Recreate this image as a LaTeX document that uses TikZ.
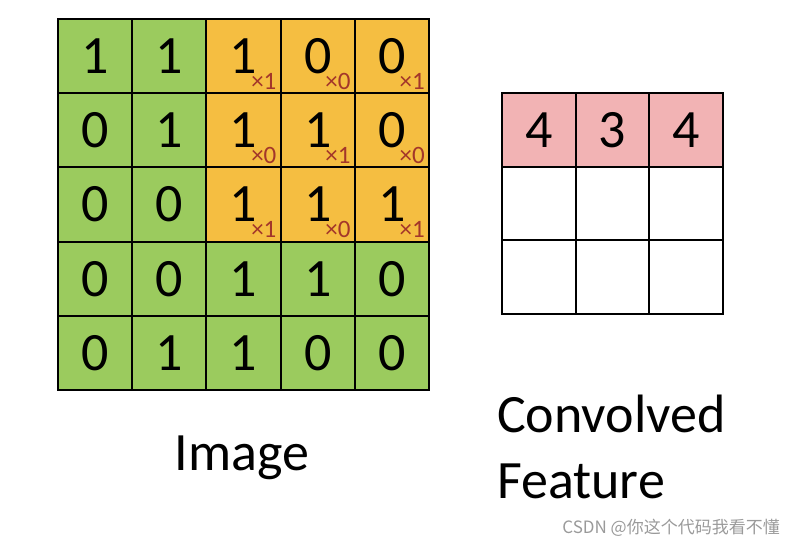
\documentclass[tikz,border=0pt]{standalone}
\usepackage{fontspec}
\setmainfont{Carlito}
\newfontfamily\cjk{Noto Sans CJK SC}
\definecolor{cgreen}{HTML}{9BCB5E}
\definecolor{corange}{HTML}{F5BE41}
\definecolor{cpink}{HTML}{F2B3B4}
\definecolor{cweight}{HTML}{A3362A}
\definecolor{cmark}{HTML}{9A9A9A}
\begin{document}
\begin{tikzpicture}[x=1pt,y=-1pt,
  cell/.style={draw=black, line width=1.9pt, minimum width=74.2pt, minimum height=74.2pt, inner sep=0pt, outer sep=0pt, font=\fontsize{54}{54}\selectfont},
  fcell/.style={cell, minimum width=73.7pt, minimum height=73.7pt},
  weight/.style={text=cweight, inner sep=0pt, anchor=base east, font=\fontsize{25}{25}\selectfont},
  label/.style={inner sep=0pt, font=\fontsize{54}{54}\selectfont}]
\useasboundingbox (0,0) rectangle (786,544);
% input image
\foreach \row/\vals in {0/{1,1,1,0,0},1/{0,1,1,1,0},2/{0,0,1,1,1},3/{0,0,1,1,0},4/{0,1,1,0,0}}{
  \foreach \v [count=\c from 0] in \vals {
    \pgfmathsetmacro{\isorange}{(\row<3 && \c>1) ? 1 : 0}
    \ifdim\isorange pt>0.5pt
      \node[cell, fill=corange] (i-\row-\c) at ({58+74.2*(\c+0.5)},{19+74.2*(\row+0.5)}) {\v};
    \else
      \node[cell, fill=cgreen] (i-\row-\c) at ({58+74.2*(\c+0.5)},{19+74.2*(\row+0.5)}) {\v};
    \fi
  }
}
% kernel weights
\foreach \row/\ws in {0/{1,0,1},1/{0,1,0},2/{1,0,1}}{
  \foreach \w [count=\k from 2] in \ws {
    \node[weight] (w-\row-\k) at ([xshift=-4pt,yshift=4pt]i-\row-\k.south east) {×\w};
  }
}
% convolved feature
\foreach \c/\v in {0/4,1/3,2/4}{
  \node[fcell, fill=cpink] (f-0-\c) at ({502+73.7*(\c+0.5)},{93+73.7*0.5}) {\v};
}
\foreach \row in {1,2}{
  \foreach \c in {0,1,2}{
    \node[fcell, fill=white] (f-\row-\c) at ({502+73.7*(\c+0.5)},{93+73.7*(\row+0.5)}) {};
  }
}
% labels
\node[label, anchor=base] (imglabel) at (242,470) {Image};
\node[label, anchor=base west] (convlabel) at (497,432) {Convolved};
\node[label, anchor=base west] (featlabel) at (497,498) {Feature};
\node[inner sep=0pt, anchor=base east, text=cmark, font=\cjk\fontsize{17}{17}\selectfont] (mark) at (780,533) {CSDN @你这个代码我看不懂};
\end{tikzpicture}
\end{document}
